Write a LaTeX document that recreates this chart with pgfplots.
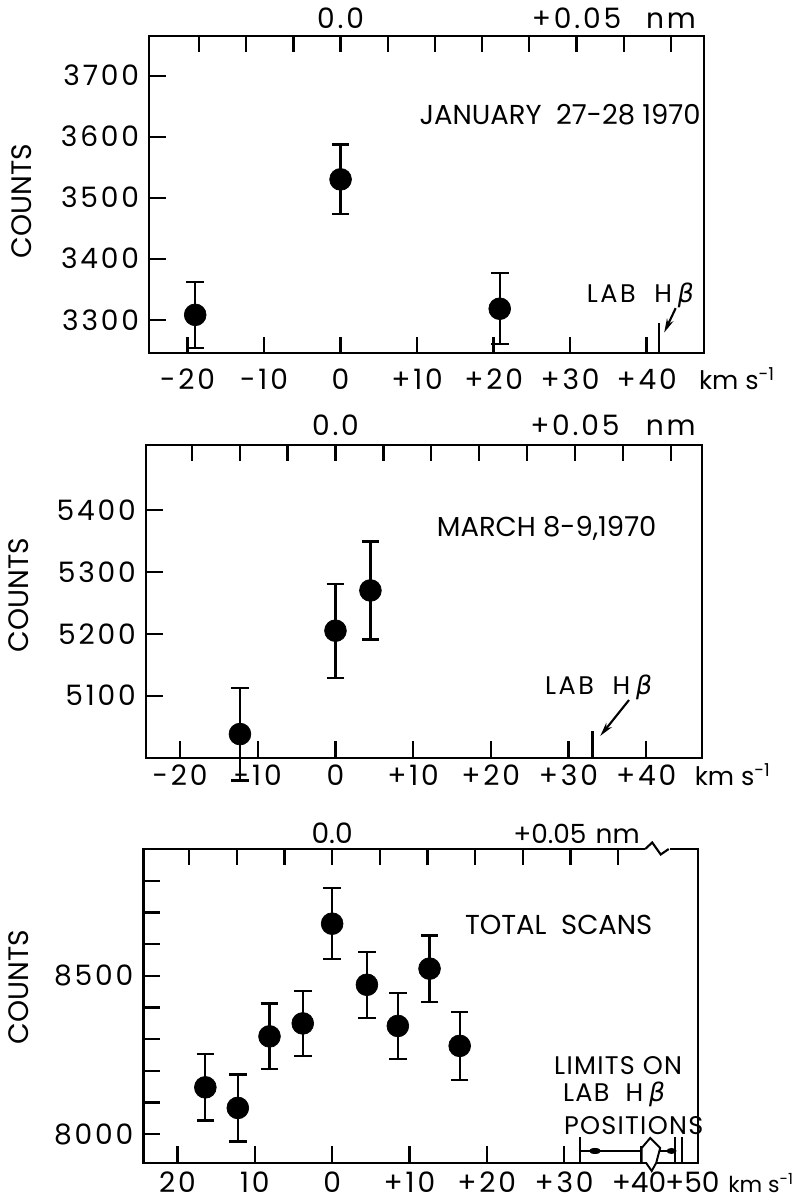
\documentclass[border=0pt]{standalone}
\usepackage{pgfplots}
\pgfplotsset{compat=1.18}
\usepackage{fontspec}
\setmainfont{Poppins}
\newfontfamily\lsp{Poppins}[LetterSpace=10]
\newfontfamily\lss{Poppins}[LetterSpace=5]
\newfontfamily\grk{DejaVu Sans}[FakeSlant=0.18]
\usetikzlibrary{arrows.meta}

\newcommand\tk{\lsp\fontsize{16}{18}\selectfont}   % tick labels
\newcommand\tp{\fontsize{16}{18}\selectfont}       % COUNTS, plain labels
\newcommand\tl{\fontsize{15.6}{18}\selectfont}     % panel titles
\newcommand\ta{\lsp\fontsize{14.5}{17}\selectfont} % LAB H-beta
\newcommand\tc{\lss\fontsize{14.5}{17}\selectfont} % limits text
\newcommand\tb{\fontsize{14.5}{17}\selectfont}     % units
\newcommand\hb{H\,{\grk β}}

\pgfplotsset{
  panel/.style={
    scale only axis, anchor=south west, clip=false,
    axis line style={line width=1.2pt},
    tick style={line width=1.3pt, black},
    major tick length=0.33cm, tick align=inside,
    xtick pos=bottom, ytick pos=left,
    tick label style={font=\tk},
    xticklabel style={anchor=base},
    yticklabel style={anchor=east, xshift=-0.08cm},
    every axis y label/.style={rotate=90, anchor=center, font=\tp},
  },
  nmaxis/.style={
    scale only axis, anchor=south west, clip=false,
    axis x line*=top, axis y line=none,
    axis line style={line width=1.2pt},
    tick style={line width=1.3pt, black},
    major tick length=0.33cm, tick align=inside,
    ymin=0, ymax=1,
    tick label style={font=\tk},
    xticklabel style={anchor=base},
  },
  dots/.style={only marks, mark=*, mark size=6.2pt, black,
    error bars/.cd, y dir=both, y explicit,
    error bar style={line width=1.3pt, black},
    error mark options={rotate=90, line width=1.3pt, mark size=5pt, black}},
}

\begin{document}
\begin{tikzpicture}
\path[use as bounding box] (0,0) rectangle (15.82cm,24.08cm);

% ---- January 27-28 1970
\begin{axis}[panel, at={(2.986cm,17.014cm)}, width=11.094cm, height=6.346cm,
  xmin=-25, xmax=47.5, ymin=3245, ymax=3765,
  xtick={-20,-10,...,40}, xticklabels={-20,-10,0,+10,+20,+30,+40},
  xticklabel style={yshift=-0.72cm},
  ytick={3300,3400,...,3700}, yticklabels={3300,3400,3500,3600,3700},
  ylabel={COUNTS}, ylabel style={at={(rel axis cs:-0.23,0.48)}}]
\addplot[dots] table[x=v, y=c, y error=e] {
v c e
-19 3308 54
0 3530 57
20.8 3318 58
};
\node[font=\tl] at (axis cs:28.7,3636) {JANUARY~~27-28~1970};
\node[font=\ta] at (axis cs:39.1,3340) {LAB~~\hb};
\draw[line width=1.2pt] (axis cs:41.6,3245) -- (axis cs:41.6,3295);
\draw[line width=1.2pt, -{Stealth[length=8pt,width=4pt]}] (axis cs:43.8,3319) -- (axis cs:42.3,3279);
\node[anchor=base west, font=\tb, yshift=-0.72cm] at (rel axis cs:0.98,0) {km s\textsuperscript{-1}};
\end{axis}
\begin{axis}[nmaxis, at={(2.986cm,17.014cm)}, width=11.094cm, height=6.346cm,
  xmin=-4.054, xmax=7.702,
  xtick={-3,...,7}, xticklabels={,,,0.0,,,,,+0.05,,nm},
  xticklabel style={yshift=0.14cm}]
\end{axis}

% ---- March 8-9 1970
\begin{axis}[panel, at={(2.92cm,8.928cm)}, width=11.12cm, height=6.252cm,
  xmin=-24.4, xmax=47.2, ymin=5000, ymax=5505,
  xtick={-20,-10,...,40}, xticklabels={-20,-10,0,+10,+20,+30,+40},
  xticklabel style={yshift=-0.56cm},
  ytick={5100,5200,...,5400}, yticklabels={5100,5200,5300,5400},
  ylabel={COUNTS}, ylabel style={at={(rel axis cs:-0.229,0.52)}}]
\addplot[dots] table[x=v, y=c, y error=e] {
v c e
-12.3 5038 75
0 5205 76
4.5 5270 79
};
\node[font=\tl] at (axis cs:27.2,5370) {MARCH 8-9,1970};
\node[font=\ta] at (axis cs:33.8,5114) {LAB~~\hb};
\draw[line width=1.2pt] (axis cs:33.1,5000) -- (axis cs:33.1,5043);
\draw[line width=1.2pt, -{Stealth[length=8pt,width=4pt]}] (axis cs:37.8,5093) -- (axis cs:34.1,5035);
\node[anchor=base west, font=\tb, yshift=-0.56cm] at (rel axis cs:0.976,0) {km s\textsuperscript{-1}};
\end{axis}
\begin{axis}[nmaxis, at={(2.92cm,8.928cm)}, width=11.12cm, height=6.252cm,
  xmin=-3.957, xmax=7.654,
  xtick={-3,...,7}, xticklabels={,,,0.0,,,,,+0.05,,nm},
  xticklabel style={yshift=0.18cm}]
\end{axis}

% ---- Total scans
\begin{axis}[panel, at={(2.87cm,0.82cm)}, width=11.086cm, height=6.28cm,
  xmin=-24.4, xmax=47.3, ymin=7909, ymax=8901,
  xtick={-20,-10,...,40}, xticklabels={20,10,0,+10,+20,+30,},
  xticklabel style={yshift=-0.59cm},
  ytick={8000,8100,...,8800}, yticklabels={8000,,,,,8500,,,},
  ylabel={COUNTS}, ylabel style={at={(rel axis cs:-0.225,0.56)}}]
\addplot[dots] table[x=v, y=c, y error=e] {
v c e
-16.4 8148 105
-12.2 8083 106
-8.1 8309 104
-3.8 8350 102
0 8665 112
4.5 8472 104
8.5 8342 104
12.6 8523 105
16.5 8279 108
};
\node[font=\tl] at (axis cs:29.3,8660) {TOTAL~~SCANS};
\node[font=\tc, inner sep=0pt] at (axis cs:37.0,8216) {LIMITS~ON};
\node[font=\tc, inner sep=0pt] at (axis cs:36.4,8126) {LAB~~\hb};
\node[font=\tc, inner sep=0pt] at (axis cs:39.0,8027) {POSITIONS};
% limits of lab H-beta positions
\draw[line width=1.2pt] (axis cs:32.1,7909) -- (axis cs:32.1,7990);
\draw[line width=1.2pt] (axis cs:44.35,7909) -- (axis cs:44.35,7990);
\draw[line width=1.2pt] (axis cs:45.2,7909) -- (axis cs:45.2,7990);
\draw[line width=1.2pt] (axis cs:32.1,7947) -- (axis cs:44.35,7947);
\fill (axis cs:34.0,7947) ellipse[x radius=0.12cm, y radius=0.06cm];
\fill (axis cs:43.9,7947) ellipse[x radius=0.1cm, y radius=0.06cm];
% axis break, bottom
\filldraw[fill=white, line width=1.1pt] (axis cs:40.04,7909)
  -- ++(0cm,0.3cm) -- ++(0.17cm,0.2cm) -- ++(0.2cm,-0.2cm)
  -- ++(-0.08cm,-0.3cm) -- ++(-0.09cm,-0.16cm) -- ++(-0.11cm,0.16cm) -- cycle;
\node[anchor=base, font=\tp, yshift=-0.59cm] at (axis cs:39.7,7909) {+40};
\node[anchor=base, font=\tp, yshift=-0.59cm] at (axis cs:46.6,7909) {+50};
\node[anchor=base west, font=\fontsize{12.5}{15}\selectfont, yshift=-0.59cm] at (rel axis cs:1.044,0) {km s\textsuperscript{-1}};
\end{axis}
\begin{axis}[nmaxis, at={(2.87cm,0.82cm)}, width=11.086cm, height=6.28cm,
  xmin=-3.957, xmax=7.670,
  xtick={-3,...,6}, xticklabels={}]
\node[anchor=base, font=\tp, yshift=0.1cm] at (axis cs:0,1) {0.0};
\node[anchor=base east, font=\fontsize{15}{17}\selectfont, yshift=0.1cm, inner sep=0pt] at (axis cs:6.46,1) {+0.05\hspace{0.35em}nm};
% axis break, top
\fill[white] (axis cs:6.567,1) ++(0cm,-0.08cm) rectangle ++(0.5cm,0.16cm);
\draw[line width=1.2pt] (axis cs:6.567,1) -- ++(0.14cm,0.13cm) -- ++(0.17cm,-0.24cm)
  -- ++(0.16cm,0.11cm);
\end{axis}
\end{tikzpicture}
\end{document}
